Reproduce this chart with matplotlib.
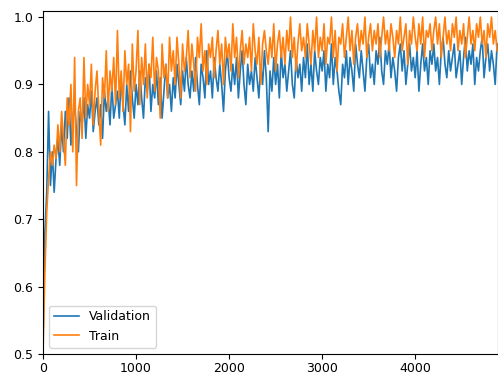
import numpy as np
import matplotlib
matplotlib.use("Agg")
import matplotlib.pyplot as plt

# accuracy logged every 20 training steps
STEP = 20

val_acc = [
    0.52, 0.68, 0.74, 0.86, 0.75, 0.80, 0.74, 0.79, 0.82, 0.78,
    0.84, 0.80, 0.86, 0.82, 0.88, 0.81, 0.85, 0.87, 0.83, 0.80,
    0.86, 0.84, 0.88, 0.82, 0.87, 0.85, 0.89, 0.83, 0.86, 0.88,
    0.84, 0.87, 0.82, 0.89, 0.86, 0.88, 0.84, 0.90, 0.85, 0.87,
    0.89, 0.85, 0.91, 0.87, 0.84, 0.90, 0.86, 0.92, 0.88, 0.85,
    0.90, 0.87, 0.92, 0.88, 0.85, 0.91, 0.89, 0.93, 0.86, 0.90,
    0.88, 0.92, 0.87, 0.91, 0.85, 0.89, 0.93, 0.88, 0.90, 0.86,
    0.91, 0.88, 0.93, 0.90, 0.87, 0.92, 0.89, 0.94, 0.90, 0.88,
    0.92, 0.89, 0.94, 0.90, 0.87, 0.93, 0.91, 0.88, 0.95, 0.90,
    0.92, 0.88, 0.94, 0.91, 0.89, 0.93, 0.90, 0.86, 0.92, 0.95,
    0.91, 0.89, 0.93, 0.90, 0.94, 0.88, 0.92, 0.95, 0.90, 0.87,
    0.93, 0.90, 0.92, 0.89, 0.94, 0.91, 0.88, 0.93, 0.90, 0.95,
    0.91, 0.83, 0.92, 0.89, 0.94, 0.90, 0.93, 0.88, 0.95, 0.91,
    0.93, 0.89, 0.92, 0.95, 0.90, 0.88, 0.94, 0.91, 0.93, 0.89,
    0.94, 0.91, 0.96, 0.90, 0.93, 0.89, 0.95, 0.92, 0.90, 0.94,
    0.92, 0.95, 0.89, 0.93, 0.91, 0.96, 0.90, 0.94, 0.92, 0.89,
    0.87, 0.93, 0.91, 0.95, 0.90, 0.94, 0.92, 0.89, 0.96, 0.93,
    0.91, 0.95, 0.92, 0.89, 0.94, 0.96, 0.91, 0.93, 0.90, 0.95,
    0.93, 0.97, 0.92, 0.90, 0.95, 0.93, 0.96, 0.91, 0.94, 0.92,
    0.89, 0.94, 0.96, 0.92, 0.95, 0.90, 0.93, 0.96, 0.92, 0.94,
    0.91, 0.95, 0.89, 0.93, 0.96, 0.92, 0.94, 0.90, 0.95, 0.93,
    0.96, 0.92, 0.94, 0.90, 0.95, 0.97, 0.93, 0.91, 0.95, 0.92,
    0.94, 0.96, 0.91, 0.93, 0.95, 0.90, 0.94, 0.97, 0.92, 0.95,
    0.93, 0.96, 0.90, 0.94, 0.92, 0.95, 0.97, 0.91, 0.94, 0.96,
    0.92, 0.95, 0.93, 0.90, 0.96,
]

train_acc = [
    0.50, 0.62, 0.71, 0.76, 0.80, 0.78, 0.81, 0.79, 0.84, 0.80,
    0.86, 0.82, 0.78, 0.88, 0.84, 0.90, 0.80, 0.94, 0.75, 0.86,
    0.88, 0.82, 0.94, 0.85, 0.90, 0.87, 0.93, 0.84, 0.89, 0.92,
    0.86, 0.81, 0.91, 0.88, 0.95, 0.86, 0.92, 0.89, 0.94, 0.87,
    0.98, 0.88, 0.92, 0.86, 0.95, 0.90, 0.93, 0.83, 0.96, 0.89,
    0.92, 0.98, 0.87, 0.94, 0.90, 0.96, 0.88, 0.93, 0.91, 0.97,
    0.89, 0.94, 0.92, 0.85, 0.96, 0.91, 0.93, 0.88, 0.97, 0.92,
    0.95, 0.90, 0.97, 0.93, 0.88, 0.96, 0.92, 0.94, 0.98, 0.91,
    0.96, 0.93, 0.89, 0.97, 0.94, 0.99, 0.92, 0.95, 0.90, 0.96,
    0.94, 0.97, 0.91, 0.95, 0.98, 0.93, 0.96, 0.90, 0.97, 0.94,
    0.96, 0.92, 0.99, 0.94, 0.97, 0.91, 0.95, 0.98, 0.93, 0.96,
    0.94, 0.97, 0.92, 0.99, 0.95, 0.93, 0.97, 0.90, 0.96, 0.98,
    0.95, 0.93, 0.97, 0.94, 0.99, 0.92, 0.96, 0.98, 0.94, 0.97,
    0.93, 0.98, 0.95, 1.00, 0.94, 0.97, 0.92, 0.96, 0.99, 0.95,
    0.97, 0.94, 0.99, 0.96, 0.93, 0.98, 0.95, 1.00, 0.94, 0.97,
    0.95, 0.99, 0.93, 0.97, 0.96, 1.00, 0.94, 0.98, 0.92, 0.97,
    0.96, 0.99, 0.94, 0.97, 1.00, 0.95, 0.98, 0.93, 0.97, 0.99,
    0.95, 0.98, 0.96, 1.00, 0.94, 0.97, 0.99, 0.95, 0.98, 0.96,
    0.99, 0.94, 0.97, 1.00, 0.96, 0.98, 0.95, 0.99, 0.97, 0.94,
    0.98, 0.96, 1.00, 0.95, 0.97, 0.99, 0.93, 0.98, 0.96, 1.00,
    0.97, 0.95, 0.99, 0.96, 1.00, 0.94, 0.98, 0.97, 0.99, 0.95,
    0.98, 1.00, 0.96, 0.99, 0.94, 0.97, 1.00, 0.96, 0.98, 0.95,
    0.99, 0.97, 1.00, 0.95, 0.98, 0.96, 0.99, 0.94, 0.97, 1.00,
    0.96, 0.98, 0.95, 0.99, 0.97, 1.00, 0.96, 0.98, 0.94, 0.99,
    0.97, 1.00, 0.96, 0.98, 0.95,
]

steps = np.arange(len(val_acc)) * STEP

fig = plt.figure(figsize=(4.98, 3.75), dpi=100)
ax = fig.add_axes([43 / 498, 21 / 375, 455 / 498, 343 / 375])

ax.plot(steps, val_acc, color="#1f77b4", linewidth=1.2, label="Validation")
ax.plot(steps, train_acc, color="#ff7f0e", linewidth=1.2, label="Train")

ax.set_xlim(0, 4890)
ax.set_ylim(0.5, 1.009)
ax.set_xticks([0, 1000, 2000, 3000, 4000])
ax.set_yticks([0.5, 0.6, 0.7, 0.8, 0.9, 1.0])
ax.tick_params(labelsize=9)
ax.tick_params(axis="x", pad=2)

ax.legend(loc="lower left", fontsize=9)

fig.savefig("out.png", dpi=100)
